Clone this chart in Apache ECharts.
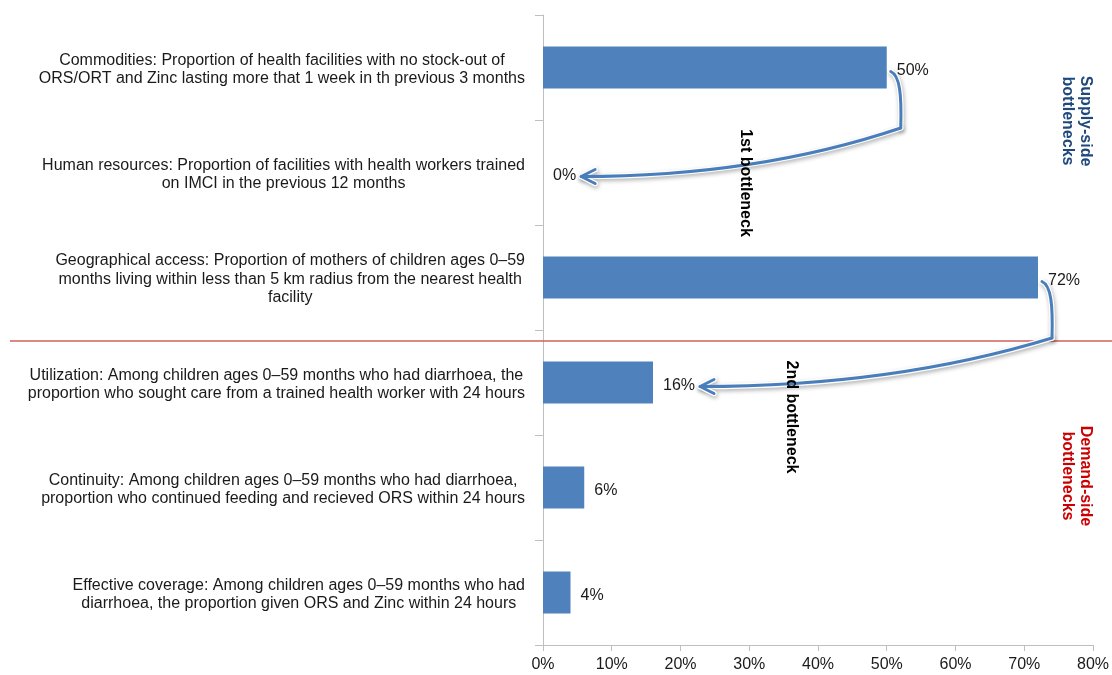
<!DOCTYPE html>
<html>
<head>
<meta charset="utf-8">
<script src="https://cdn.jsdelivr.net/npm/echarts@6/dist/echarts.min.js"></script>
<style>html,body{margin:0;padding:0;background:#fff}#c{width:1112px;height:675px}</style>
</head>
<body>
<div id="c"></div>
<script>
var categories = [
  "Commodities: Proportion of health facilities with no stock-out of\nORS/ORT and Zinc lasting more that 1 week in th previous 3 months",
  "Human resources: Proportion of facilities with health workers trained\non IMCI in the previous 12 months",
  "Geographical access: Proportion of mothers of children ages 0\u201359\nmonths living within less than 5 km radius from the nearest health\nfacility",
  "Utilization: Among children ages 0\u201359 months who had diarrhoea, the\nproportion who sought care from a trained health worker with 24 hours",
  "Continuity: Among children ages 0\u201359 months who had diarrhoea,\nproportion who continued feeding and recieved ORS within 24 hours",
  "Effective coverage: Among children ages 0\u201359 months who had\ndiarrhoea, the proportion given ORS and Zinc within 24 hours"
];
var values = [50, 0, 72, 16, 6, 4];
// arrows: [start value, start category index, target value, target category index]
var arrows = [[50, 0, 0, 1], [72, 2, 16, 3]];
// divider between supply side (categories 0-2) and demand side (3-5)
var divider = [[0, 2]];
var arrowTexts = ["1st bottleneck", "2nd bottleneck"];
var sideTexts = ["Supply-side\nbottlenecks", "Demand-side\nbottlenecks"];

var FONT = "'Liberation Sans', Arial, Helvetica, sans-serif";
var FS = 16;
var measureCtx = document.createElement('canvas').getContext('2d');
measureCtx.font = FS + 'px ' + FONT;

var chart = echarts.init(document.getElementById('c'));

function renderArrow(params, api) {
  var s = api.coord([api.value(0), api.value(1)]);
  var e = api.coord([api.value(2), api.value(3)]);
  var band = api.size([0, 1])[1];
  var lw = measureCtx.measureText(api.value(2) + '%').width;
  var sx = s[0] + 4, sy = s[1] + 4;
  var cx = s[0] + 14, cy = s[1] + band / 2 + 8;
  var tx = e[0] + 10 + lw + 5, ty = e[1] + 4;
  var shapes = [
    {x1: sx, y1: sy, cpx1: sx + 9, cpy1: sy + 4, cpx2: cx + 1, cpy2: sy + (cy - sy) * 0.4, x2: cx, y2: cy},
    {x1: cx, y1: cy, cpx1: tx + (cx - tx) * 0.55, cpy1: ty, x2: tx, y2: ty}
  ];
  var head = [[tx + 14, ty - 7], [tx, ty], [tx + 14, ty + 7]];
  var children = [];
  [['#ffffff', 5.5, true], ['#4a7ebb', 3, false]].forEach(function (st) {
    var style = {stroke: st[0], lineWidth: st[1], fill: null, lineCap: 'round', lineJoin: 'round'};
    if (st[2]) {
      style.shadowBlur = 4; style.shadowColor = 'rgba(0,0,0,0.3)';
      style.shadowOffsetX = 1; style.shadowOffsetY = 2;
    }
    shapes.forEach(function (sh) {
      children.push({type: 'bezierCurve', shape: sh, style: Object.assign({}, style)});
    });
    children.push({type: 'polyline', shape: {points: head}, style: Object.assign({}, style)});
  });
  return {type: 'group', children: children};
}

function renderDivider(params, api) {
  var p = api.coord([api.value(0), api.value(1)]);
  var band = api.size([0, 1])[1];
  var y = p[1] + band / 2 + 11;
  return {
    type: 'line',
    shape: {x1: 10, y1: y, x2: api.getWidth(), y2: y},
    style: {stroke: '#d0605c', lineWidth: 1.5}
  };
}

chart.setOption({
  animation: false,
  textStyle: {fontFamily: FONT},
  grid: {left: 543, right: 17, top: 15, bottom: 30},
  xAxis: {
    type: 'value', min: 0, max: 80, interval: 10,
    axisLabel: {formatter: '{value}%', fontSize: FS, color: '#1a1a1a', margin: 12},
    axisLine: {show: true, lineStyle: {color: '#bfbfbf'}},
    axisTick: {show: true, length: 6, lineStyle: {color: '#bfbfbf'}},
    splitLine: {show: false}
  },
  yAxis: {
    type: 'category', inverse: true, data: categories,
    axisLine: {show: true, lineStyle: {color: '#bfbfbf'}},
    axisTick: {show: true, length: 8, lineStyle: {color: '#bfbfbf'}},
    axisLabel: {
      margin: 18,
      formatter: function (v) {
        return v.split('\n').map(function (l) { return '{c|' + l + '}'; }).join('\n');
      },
      rich: {c: {align: 'center', fontSize: FS, lineHeight: 18.5, color: '#1a1a1a', fontFamily: FONT, padding: [4, 0, 0, 0]}}
    }
  },
  series: [
    {
      type: 'bar', data: values, barWidth: '40%',
      itemStyle: {color: '#4f81bd'},
      label: {show: true, position: 'right', distance: 10, formatter: '{c}%', fontSize: FS, color: '#1a1a1a', fontFamily: FONT, offset: [0, 3]}
    },
    {
      type: 'custom', renderItem: renderDivider, data: divider, clip: false, z: 3,
      encode: {x: 0, y: 1}, silent: true
    },
    {
      type: 'custom', renderItem: renderArrow, data: arrows, clip: false, z: 5,
      encode: {x: [0, 2], y: [1, 3]}, silent: true
    }
  ],
  graphic: [
    {type: 'text', x: 745, y: 183, rotation: -Math.PI / 2, z: 10,
      style: {text: arrowTexts[0], font: 'bold 16px ' + FONT, fill: '#000', align: 'center', verticalAlign: 'middle'}},
    {type: 'text', x: 791, y: 417, rotation: -Math.PI / 2, z: 10,
      style: {text: arrowTexts[1], font: 'bold 16px ' + FONT, fill: '#000', align: 'center', verticalAlign: 'middle'}},
    {type: 'text', x: 1076, y: 121, rotation: -Math.PI / 2, z: 10,
      style: {text: sideTexts[0], font: 'bold 16px ' + FONT, fill: '#1f497d', align: 'center', verticalAlign: 'middle', lineHeight: 18}},
    {type: 'text', x: 1076, y: 476, rotation: -Math.PI / 2, z: 10,
      style: {text: sideTexts[1], font: 'bold 16px ' + FONT, fill: '#cc0000', align: 'center', verticalAlign: 'middle', lineHeight: 18}}
  ]
});
</script>
</body>
</html>
